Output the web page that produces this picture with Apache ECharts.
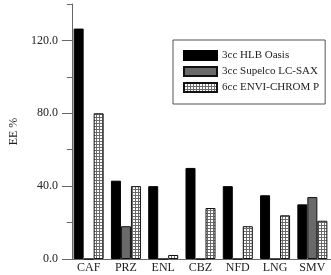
<!DOCTYPE html>
<html>
<head>
<meta charset="utf-8">
<script src="https://cdn.jsdelivr.net/npm/echarts@6/dist/echarts.min.js"></script>
<style>
  html, body { margin: 0; padding: 0; background: #fff; }
  #chart { width: 331px; height: 275px; }
</style>
</head>
<body>
<div id="chart"></div>
<script>
const categories = ['CAF', 'PRZ', 'ENL', 'CBZ', 'NFD', 'LNG', 'SMV'];
const hlbOasis = [126.5, 43, 40, 50, 40, 35, 30];
const supelcoSax = [0, 18, 0, 0, 0, 0, 34];
const enviChrom = [80, 40, 2.2, 28, 18, 24, 21];
const majorTicks = [0, 40, 80, 120];

// small grid pattern for the ENVI-CHROM bars
function makePattern() {
    let c = document.createElement('canvas');
    c.width = 3;
    c.height = 3;
    let ctx = c.getContext('2d');
    ctx.fillStyle = '#fff';
    ctx.fillRect(0, 0, 3, 3);
    ctx.fillStyle = '#6a6a6a';
    ctx.fillRect(0, 0, 3, 1);
    ctx.fillRect(0, 0, 1, 3);
    return c;
}

const font = 'Liberation Serif';
const axisColor = '#666';
const textColor = '#222';

let myChart = echarts.init(document.getElementById('chart'));
let option = {
    animation: false,
    textStyle: { fontFamily: font },
    grid: [
        { left: 51, top: 4, right: 0, bottom: 16 },
        { left: 70, top: 4, right: -3, bottom: 16 }
    ],
    legend: {
        orient: 'vertical',
        left: 173,
        top: 40,
        padding: [10, 6, 11, 10],
        borderColor: '#555',
        borderWidth: 1,
        itemWidth: 33,
        itemHeight: 9,
        itemGap: 5,
        icon: 'rect',
        textStyle: { fontFamily: font, fontSize: 11, lineHeight: 11, color: textColor },
        data: ['3cc HLB Oasis', '3cc Supelco LC-SAX', '6cc ENVI-CHROM P']
    },
    xAxis: [
        {
            type: 'value', gridIndex: 0, min: 0, max: 1,
            axisLine: { show: true, lineStyle: { color: axisColor } },
            axisTick: { show: false }, axisLabel: { show: false }, splitLine: { show: false }
        },
        {
            type: 'category', gridIndex: 1, data: categories,
            axisLine: { show: false }, axisTick: { show: false },
            axisLabel: { margin: 3, fontSize: 12, color: textColor, fontFamily: font }
        }
    ],
    yAxis: [
        {
            type: 'value', gridIndex: 0, min: 0, max: 140, interval: 20,
            name: 'EE %', nameLocation: 'middle', nameGap: 50,
            nameTextStyle: { fontSize: 12, color: textColor, fontFamily: font },
            axisLine: { show: true, lineStyle: { color: axisColor } },
            axisTick: { show: true, length: 5, lineStyle: { color: axisColor } },
            axisLabel: {
                margin: 14, fontSize: 12, color: textColor, fontFamily: font,
                customValues: majorTicks,
                formatter: v => (v % 40 === 0 ? v.toFixed(1) : '')
            },
            splitLine: { show: false }
        },
        {
            type: 'value', gridIndex: 0, min: 0, max: 140, position: 'left',
            axisLine: { show: false },
            axisTick: { show: true, length: 10, customValues: majorTicks, lineStyle: { color: axisColor } },
            axisLabel: { show: false }, splitLine: { show: false }
        },
        {
            type: 'value', gridIndex: 1, min: 0, max: 140, show: false
        }
    ],
    series: [
        {
            name: '3cc HLB Oasis', type: 'bar', xAxisIndex: 1, yAxisIndex: 2,
            data: hlbOasis, barWidth: 10, barGap: '0%',
            itemStyle: { color: '#000', borderColor: '#000', borderWidth: 1 }
        },
        {
            name: '3cc Supelco LC-SAX', type: 'bar', xAxisIndex: 1, yAxisIndex: 2,
            data: supelcoSax, barWidth: 10, barGap: '0%',
            itemStyle: { color: '#6a6a6a', borderColor: '#111', borderWidth: 1 }
        },
        {
            name: '6cc ENVI-CHROM P', type: 'bar', xAxisIndex: 1, yAxisIndex: 2,
            data: enviChrom, barWidth: 10, barGap: '0%',
            itemStyle: {
                color: { image: makePattern(), repeat: 'repeat' },
                borderColor: '#111', borderWidth: 1
            }
        }
    ]
};
myChart.setOption(option);

window.addEventListener('resize', function () {
    myChart.resize();
});
</script>
</body>
</html>
